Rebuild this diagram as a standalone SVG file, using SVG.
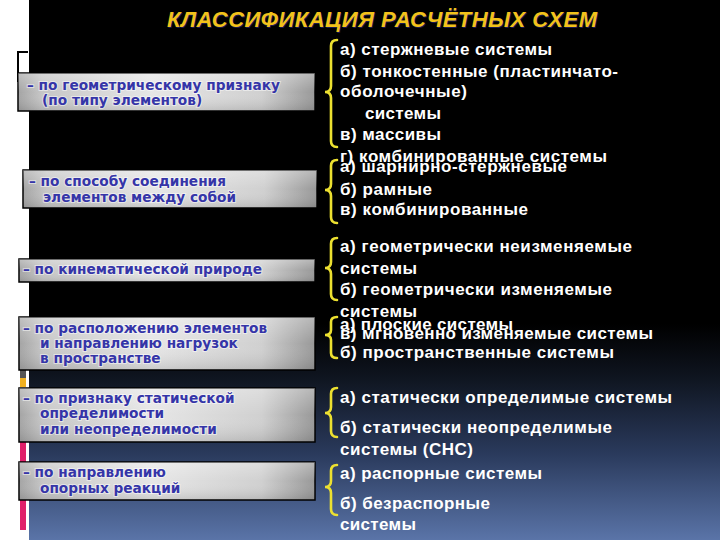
<svg xmlns="http://www.w3.org/2000/svg" width="720" height="540" viewBox="0 0 720 540">
<defs>
<linearGradient id="bg" gradientUnits="userSpaceOnUse" x1="0" y1="0" x2="0" y2="540">
<stop offset="0" stop-color="#000"/>
<stop offset="0.6" stop-color="#000"/>
<stop offset="0.7" stop-color="#0f1520"/>
<stop offset="0.84" stop-color="#2a3a5c"/>
<stop offset="1" stop-color="#5a74a8"/>
</linearGradient>
<linearGradient id="boxg" x1="0" y1="0" x2="1" y2="0">
<stop offset="0" stop-color="#a4a4a4"/>
<stop offset="0.08" stop-color="#c6c6c6"/>
<stop offset="0.45" stop-color="#e6e6e6"/>
<stop offset="0.82" stop-color="#d0d0d0"/>
<stop offset="1" stop-color="#989898"/>
</linearGradient>
<linearGradient id="boxv" x1="0" y1="0" x2="0" y2="1">
<stop offset="0" stop-color="#fff" stop-opacity="0.3"/>
<stop offset="0.5" stop-color="#fff" stop-opacity="0"/>
<stop offset="1" stop-color="#000" stop-opacity="0.12"/>
</linearGradient>
</defs>
<style>
.box{fill:url(#boxg);stroke:#000;stroke-width:1.5}
.boxh{fill:url(#boxv)}
.bt{font-family:"DejaVu Sans",Verdana,sans-serif;font-weight:bold;font-size:13.7px;fill:#3535a8;stroke:#fff;stroke-opacity:0.5;stroke-width:2;paint-order:stroke}
.rt{font-family:"Liberation Sans",Arial,sans-serif;font-weight:bold;font-size:17px;fill:#fff}
.br{fill:none;stroke:#ece030;stroke-width:2.6;stroke-linecap:round}
.title{font-family:"Liberation Sans",Arial,sans-serif;font-weight:bold;font-style:italic;font-size:22px;fill:#f2c21a}
</style>
<rect width="720" height="540" fill="#fff"/>
<rect x="29" y="0" width="691" height="540" fill="url(#bg)"/>
<g id="decor">
<path d="M18,82 V52 H28" fill="none" stroke="#000" stroke-width="2"/>
<rect x="20" y="370" width="6" height="8" fill="#555"/>
<rect x="20" y="378" width="6" height="9" fill="#f0b020"/>
<rect x="20" y="442" width="6" height="20" fill="#e0206a"/>
<rect x="20" y="500" width="6" height="30" fill="#e0206a"/>
</g>
<g id="title">
<text class="title" x="168" y="28" textLength="430" style="fill:#1a1a50">КЛАССИФИКАЦИЯ РАСЧЁТНЫХ СХЕМ</text>
<text class="title" x="167" y="27" textLength="430">КЛАССИФИКАЦИЯ РАСЧЁТНЫХ СХЕМ</text>
</g>
<g id="n1">
<rect class="box" x="18" y="73" width="297" height="38"/><rect class="boxh" x="18" y="73" width="297" height="38"/>
<text class="bt" x="27" y="90">– по геометрическому признаку</text>
<text class="bt" x="42" y="105">(по типу элементов)</text>
</g>
<g id="n2">
<rect class="box" x="23" y="170" width="294" height="38"/><rect class="boxh" x="23" y="170" width="294" height="38"/>
<text class="bt" x="29" y="186">– по способу соединения</text>
<text class="bt" x="43" y="202">элементов между собой</text>
</g>
<g id="n3">
<rect class="box" x="19" y="259" width="296" height="23"/><rect class="boxh" x="19" y="259" width="296" height="23"/>
<text class="bt" x="23" y="274">– по кинематической природе</text>
</g>
<g id="n4">
<rect class="box" x="19" y="317" width="296" height="53"/><rect class="boxh" x="19" y="317" width="296" height="53"/>
<text class="bt" x="23" y="333">– по расположению элементов</text>
<text class="bt" x="40" y="348">и направлению нагрузок</text>
<text class="bt" x="40" y="363">в пространстве</text>
</g>
<g id="n5">
<rect class="box" x="19" y="388" width="296" height="54"/><rect class="boxh" x="19" y="388" width="296" height="54"/>
<text class="bt" x="23" y="403">– по признаку статической</text>
<text class="bt" x="40" y="418">определимости</text>
<text class="bt" x="40" y="434">или неопределимости</text>
</g>
<g id="n6">
<rect class="box" x="19" y="462" width="296" height="38"/><rect class="boxh" x="19" y="462" width="296" height="38"/>
<text class="bt" x="23" y="477">– по направлению</text>
<text class="bt" x="40" y="493">опорных реакций</text>
</g>
<g id="connectors">
<path class="br" d="M337,40 Q331,40 331,46 V86 Q331,92 325,92 Q331,92 331,98 V141 Q331,147 337,147"/>
<path class="br" d="M337,160 Q331,160 331,166 V184 Q331,190 325,190 Q331,190 331,196 V217 Q331,223 337,223"/>
<path class="br" d="M337,238 Q331,238 331,244 V262 Q331,268 325,268 Q331,268 331,274 V294 Q331,300 337,300"/>
<path class="br" d="M337,317 Q331,317 331,322 V330 Q331,335 325,335 Q331,335 331,340 V353 Q331,358 337,358"/>
<path class="br" d="M337,388 Q331,388 331,394 V407 Q331,413 325,413 Q331,413 331,419 V431 Q331,437 337,437"/>
<path class="br" d="M337,465 Q331,465 331,471 V481 Q331,487 325,487 Q331,487 331,493 V509 Q331,515 337,515"/>
</g>
<g id="t1">
<text class="rt" x="340" y="55" textLength="212">а) стержневые системы</text>
<text class="rt" x="340" y="77" textLength="278">б) тонкостенные (пластинчато-</text>
<text class="rt" x="340" y="97" textLength="127">оболочечные)</text>
<text class="rt" x="365" y="119" textLength="76">системы</text>
<text class="rt" x="340" y="140" textLength="101">в) массивы</text>
<text class="rt" x="340" y="162" textLength="267">г) комбинированные системы</text>
</g>
<g id="t2">
<text class="rt" x="340" y="172" textLength="227">а) шарнирно-стержневые</text>
<text class="rt" x="340" y="195" textLength="92">б) рамные</text>
<text class="rt" x="340" y="215" textLength="188">в) комбинированные</text>
</g>
<g id="t3">
<text class="rt" x="340" y="252" textLength="292">а) геометрически неизменяемые</text>
<text class="rt" x="340" y="274" textLength="77">системы</text>
<text class="rt" x="340" y="295" textLength="272">б) геометрически изменяемые</text>
<text class="rt" x="340" y="317" textLength="77">системы</text>
<text class="rt" x="340" y="339" textLength="313">в) мгновенно изменяемые системы</text>
</g>
<g id="t4">
<text class="rt" x="340" y="330" textLength="173">а) плоские системы</text>
<text class="rt" x="340" y="358" textLength="274">б) пространственные системы</text>
</g>
<g id="t5">
<text class="rt" x="340" y="403" textLength="332">а) статически определимые системы</text>
<text class="rt" x="340" y="433" textLength="272">б) статически неопределимые</text>
<text class="rt" x="340" y="455" textLength="133">системы (СНС)</text>
</g>
<g id="t6">
<text class="rt" x="340" y="479" textLength="202">а) распорные системы</text>
<text class="rt" x="340" y="509" textLength="150">б) безраспорные</text>
<text class="rt" x="340" y="530" textLength="76">системы</text>
</g>
</svg>
